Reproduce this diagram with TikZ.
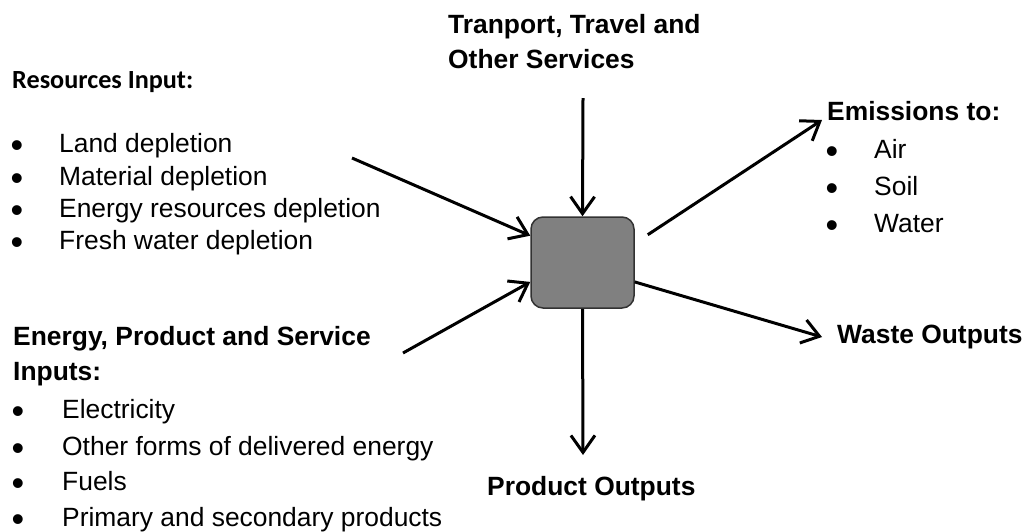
\documentclass[tikz,border=0pt]{standalone}
\usepackage{fontspec}
\setmainfont{Liberation Sans}
\newfontfamily\calib{Carlito}
\usetikzlibrary{arrows.meta,calc}
\definecolor{boxfill}{RGB}{128,128,128}
\definecolor{boxline}{RGB}{50,50,50}
\begin{document}
\begin{tikzpicture}[x=1pt,y=-1pt,
  txt/.style={anchor=base west,inner sep=0pt,font=\fontsize{26.4}{32}\selectfont},
  hd/.style={anchor=base west,inner sep=0pt,font=\fontsize{26.4}{32}\selectfont\bfseries},
  bul/.style={anchor=base,inner sep=0pt,yshift=-5pt,font=\fontsize{36}{40}\selectfont},
  flow/.style={line width=3pt,-{Straight Barb[length=17pt,width=24pt,line width=3pt]}},
  ]
\useasboundingbox (0,0) rectangle (1024,531);

% central process box
\node[draw=boxline,fill=boxfill,line width=1.5pt,rounded corners=12pt,
      minimum width=103pt,minimum height=91pt,inner sep=0pt] (box) at (582.5,262.5) {};

% labels
\node[hd] (tr1) at (448,33) {Tranport, Travel and};
\node[hd] (tr2) at (448,68) {Other Services};

\node[anchor=base west,inner sep=0pt,font=\calib\bfseries\fontsize{26.2}{30}\selectfont] (res) at (12,88) {Resources Input:};
\node[bul] (b1) at (17,152) {\textbullet};
\node[txt] (r1) at (59,152) {Land depletion};
\node[bul] (b2) at (17,185) {\textbullet};
\node[txt] (r2) at (59,185) {Material depletion};
\node[bul] (b3) at (17,217) {\textbullet};
\node[txt] (r3) at (59,217) {Energy resources depletion};
\node[bul] (b4) at (17,249) {\textbullet};
\node[txt] (r4) at (59,249) {Fresh water depletion};

\node[hd] (emi) at (827,120) {Emissions to:};
\node[bul] (e1b) at (832,158) {\textbullet};
\node[txt] (e1) at (874,158) {Air};
\node[bul] (e2b) at (832,195) {\textbullet};
\node[txt] (e2) at (874,195) {Soil};
\node[bul] (e3b) at (832,232) {\textbullet};
\node[txt] (e3) at (874,232) {Water};

\node[hd] (waste) at (837,343) {Waste Outputs};
\node[hd] (prod) at (487,495) {Product Outputs};

\node[hd] (ein1) at (13,345) {Energy, Product and Service};
\node[hd] (ein2) at (13,380) {Inputs:};
\node[bul] (f1b) at (18,418) {\textbullet};
\node[txt] (f1) at (62,418) {Electricity};
\node[bul] (f2b) at (18,455) {\textbullet};
\node[txt] (f2) at (62,455) {Other forms of delivered energy};
\node[bul] (f3b) at (18,490) {\textbullet};
\node[txt] (f3) at (62,490) {Fuels};
\node[bul] (f4b) at (18,526) {\textbullet};
\node[txt] (f4) at (62,526) {Primary and secondary products};

% connector end points
\coordinate (topS) at (583,98);
\coordinate (resS) at (352,158);
\coordinate (enS) at (403,353);
\coordinate (emiT) at (822,120);
\coordinate (wasT) at (822,337);
\coordinate (proT) at (583,455);

% connectors
\draw[flow] (topS) -- (box.north);
\draw[flow] (resS) -- ($(box.north west)!0.21!(box.south west)$);
\draw[flow] (enS) -- ($(box.north west)!0.71!(box.south west)$);
\draw[flow] ($(box.north east)!0.2!(box.south east)+(13,0)$) -- (emiT);
\draw[flow] ($(box.north east)!0.71!(box.south east)$) -- (wasT);
\draw[flow] (box.south) -- (proT);
\end{tikzpicture}
\end{document}
